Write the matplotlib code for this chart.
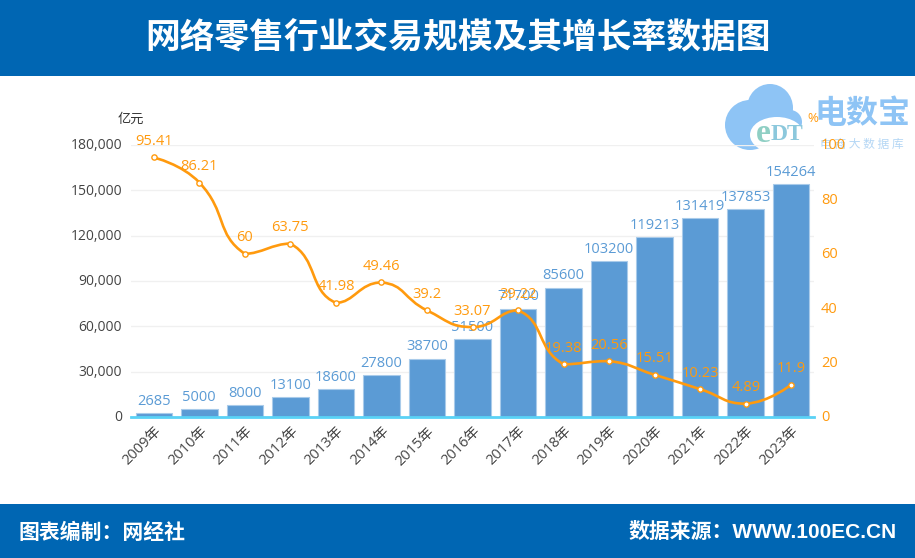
import matplotlib
matplotlib.use('Agg')
import matplotlib.pyplot as plt
import numpy as np
from matplotlib.path import Path
from matplotlib.patches import PathPatch, Rectangle, Ellipse
from matplotlib.transforms import ScaledTranslation

plt.rcParams['font.family'] = ['Open Sans', 'Noto Sans CJK SC', 'DejaVu Sans']

years = ['2009年', '2010年', '2011年', '2012年', '2013年', '2014年', '2015年', '2016年',
         '2017年', '2018年', '2019年', '2020年', '2021年', '2022年', '2023年']
scale = [2685, 5000, 8000, 13100, 18600, 27800, 38700, 51500,
         71700, 85600, 103200, 119213, 131419, 137853, 154264]
growth = [95.41, 86.21, 60, 63.75, 41.98, 49.46, 39.2, 33.07,
          39.22, 19.38, 20.56, 15.51, 10.23, 4.89, 11.9]
left_ticks = [0, 30000, 60000, 90000, 120000, 150000, 180000]
right_ticks = [0, 20, 40, 60, 80, 100]

BLUE = '#0066b3'
BAR = '#5b9bd5'
ORANGE = '#ff9a0e'
W, H = 915, 558

fig = plt.figure(figsize=(W / 100, H / 100), dpi=100)

# background layer in pixel coordinates: banners and watermark
bg = fig.add_axes([0, 0, 1, 1], zorder=0)
bg.set_xlim(0, W)
bg.set_ylim(H, 0)
bg.axis('off')
bg.add_patch(Rectangle((0, 0), W, 76, color=BLUE, lw=0))
bg.add_patch(Rectangle((0, 504), W, 54, color=BLUE, lw=0))
bg.text(458, 38, '网络零售行业交易规模及其增长率数据图', color='white', fontsize=25, fontweight='bold',
        ha='center', va='center', family=['Noto Sans CJK SC'])
bg.text(19, 532, '图表编制\uff1a网经社', color='white', fontsize=15, fontweight='bold',
        ha='left', va='center', family=['Noto Sans CJK SC'])
bg.text(897, 532, '数据来源\uff1aWWW.100EC.CN', color='white', fontsize=15, fontweight='bold',
        ha='right', va='center', family=['Liberation Sans', 'Noto Sans CJK SC'])

# logo
cloud = '#8ec4f5'
for cx, cy, w, h in [(750, 125, 50, 50), (770, 108, 46, 48), (790, 122, 24, 24)]:
    bg.add_patch(Ellipse((cx, cy), w, h, color=cloud, lw=0))
bg.add_patch(Ellipse((777, 135), 54, 36, color='white', lw=0))
bg.add_patch(Rectangle((762, 135), 50, 18, color='white', lw=0))
bg.text(763, 134, 'e', color='#8fcfc4', fontsize=24, fontweight='bold', ha='center', va='center',
        family=['Liberation Serif'])
bg.text(787, 135, 'DT', color='#8cc8dc', fontsize=17, fontweight='bold', ha='center', va='center',
        family=['Liberation Serif'])
bg.text(862, 114, '电数宝', color='#8ec4f5', fontsize=23, fontweight='bold', ha='center', va='center',
        family=['Noto Sans CJK SC'])
bg.text(862, 144, '电 商 大 数 据 库', color='#b5d7f5', fontsize=8.5, ha='center', va='center',
        family=['Noto Sans CJK SC'])

# main axes
x0, x1, y0, y1 = 131, 814, 417, 145
ax = fig.add_axes([x0 / W, 1 - y0 / H, (x1 - x0) / W, (y0 - y1) / H], zorder=2)
ax.patch.set_visible(False)
x = np.arange(len(years))
ax.bar(x, scale, width=0.8, color=BAR, edgecolor='#a9cbea', linewidth=0.8, zorder=2)
ax.set_xlim(-0.5, len(years) - 0.5)
ax.set_ylim(0, 180000)
ax.set_yticks(left_ticks)
ax.set_yticklabels(['{:,}'.format(v) for v in left_ticks], color='#444444', fontsize=10)
ax.set_xticks(x)
ax.set_xticklabels(years, rotation=45, ha='right', rotation_mode='anchor', color='#444444', fontsize=10.5)
ax.tick_params(length=0)
ax.tick_params(axis='y', pad=6.5)
ax.tick_params(axis='x', pad=5)
ax.grid(axis='y', color='#f0f0f0', lw=1, zorder=0)
ax.set_axisbelow(True)
for s in ['top', 'left', 'right']:
    ax.spines[s].set_visible(False)
ax.spines['bottom'].set_color('#5ad2f6')
ax.spines['bottom'].set_linewidth(2)
ax.spines['bottom'].set_zorder(5)

for xi, v in zip(x, scale):
    ax.annotate(str(v), (xi, v), xytext=(0, 3), textcoords='offset points', ha='center', va='bottom',
                color=BAR, fontsize=10.5, zorder=6)

# right axis with the growth line
ax2 = ax.twinx()
ax2.patch.set_visible(False)
ax2.set_ylim(0, 100)
ax2.set_yticks(right_ticks)
ax2.set_yticklabels(right_ticks, color=ORANGE, fontsize=10.5)
ax2.tick_params(length=0, pad=5)
for s in ax2.spines.values():
    s.set_visible(False)

# tick labels sit a little higher in the original
up = ScaledTranslation(0, 0.8 / 72, fig.dpi_scale_trans)
for lab in ax.get_yticklabels() + ax2.get_yticklabels():
    lab.set_transform(lab.get_transform() + up)

# smoothed line, bezier control points the way echarts does it
gy = np.array(growth, dtype=float)
sx = (x1 - x0) / len(years)
sy = (y0 - y1) / 100
px = x * sx
py = gy * sy
smooth = 0.5
verts = [(x[0], gy[0])]
codes = [Path.MOVETO]
cp_out = (px[0], py[0])
for i in range(1, len(x)):
    if i < len(x) - 1:
        l0 = np.hypot(px[i] - px[i - 1], py[i] - py[i - 1])
        l1 = np.hypot(px[i + 1] - px[i], py[i + 1] - py[i])
        r = l1 / (l0 + l1)
        dx = px[i + 1] - px[i - 1]
        dy = py[i + 1] - py[i - 1]
        cp_in = (px[i] - dx * smooth * (1 - r), py[i] - dy * smooth * (1 - r))
        cp_next = (px[i] + dx * smooth * r, py[i] + dy * smooth * r)
        lo, hi = sorted((py[i - 1], py[i]))
        cp_in = (cp_in[0], min(max(cp_in[1], lo), hi))
        lo, hi = sorted((py[i], py[i + 1]))
        cp_next = (cp_next[0], min(max(cp_next[1], lo), hi))
    else:
        cp_in = (px[i], py[i])
        cp_next = cp_in
    verts += [(cp_out[0] / sx, cp_out[1] / sy), (cp_in[0] / sx, cp_in[1] / sy), (x[i], gy[i])]
    codes += [Path.CURVE4, Path.CURVE4, Path.CURVE4]
    cp_out = cp_next
ax2.add_patch(PathPatch(Path(verts, codes), fc='none', ec=ORANGE, lw=1.9, zorder=4))
ax2.plot(x, gy, ls='none', marker='o', ms=3.8, mfc='white', mec=ORANGE, mew=1, zorder=5)
for xi, v in zip(x, growth):
    ax2.annotate(str(v), (xi, v), xytext=(0, 6), textcoords='offset points', ha='center', va='bottom',
                 color=ORANGE, fontsize=10.5, zorder=7)

# axis unit labels
top = fig.add_axes([0, 0, 1, 1], zorder=3)
top.set_xlim(0, W)
top.set_ylim(H, 0)
top.axis('off')
top.text(131, 119, '亿元', color='#333333', fontsize=9.5, ha='center', va='center')
top.text(813, 119, '%', color=ORANGE, fontsize=9.5, ha='center', va='center')

plt.savefig('out.png', dpi=100)
plt.close()
